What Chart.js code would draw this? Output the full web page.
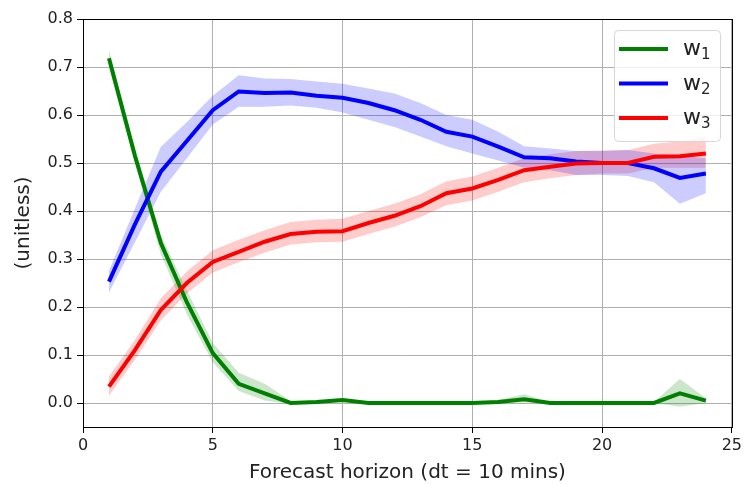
<!DOCTYPE html>
<html>
<head>
<meta charset="utf-8">
<script src="https://cdn.jsdelivr.net/npm/chart.js@4"></script>
<style>
  html, body { margin: 0; padding: 0; background: #fff; }
  #wrap { width: 745px; height: 485px; }
</style>
</head>
<body>
<div id="wrap"><canvas id="weightsChart" width="745" height="485"></canvas></div>
<script>
// Forecast horizon steps
const horizon = [1, 2, 3, 4, 5, 6, 7, 8, 9, 10, 11, 12, 13, 14, 15, 16, 17, 18, 19, 20, 21, 22, 23, 24];

// w1 (green)
const w1 = [0.718, 0.515, 0.333, 0.21, 0.104, 0.04, 0.02, 0.0, 0.002, 0.006, 0.0, 0.0, 0.0, 0.0, 0.0, 0.002, 0.008, 0.0, 0.0, 0.0, 0.0, 0.0, 0.02, 0.005];
const w1Lo = [0.70, 0.50, 0.31, 0.185, 0.085, 0.025, 0.005, -0.002, 0.0, 0.002, 0.0, 0.0, 0.0, 0.0, 0.0, 0.0, 0.001, 0.0, 0.0, 0.0, 0.0, 0.0, -0.008, 0.0];
const w1Hi = [0.735, 0.532, 0.35, 0.235, 0.125, 0.063, 0.04, 0.004, 0.004, 0.01, 0.002, 0.002, 0.002, 0.002, 0.002, 0.006, 0.018, 0.002, 0.002, 0.002, 0.002, 0.002, 0.05, 0.01];

// w2 (blue)
const w2 = [0.253, 0.372, 0.482, 0.546, 0.61, 0.649, 0.646, 0.647, 0.64, 0.636, 0.625, 0.61, 0.59, 0.565, 0.555, 0.534, 0.512, 0.51, 0.503, 0.5, 0.5, 0.489, 0.469, 0.478];
const w2Lo = [0.23, 0.335, 0.44, 0.51, 0.58, 0.617, 0.617, 0.62, 0.615, 0.605, 0.59, 0.575, 0.555, 0.535, 0.52, 0.505, 0.49, 0.485, 0.475, 0.475, 0.473, 0.46, 0.415, 0.437];
const w2Hi = [0.275, 0.405, 0.534, 0.585, 0.64, 0.683, 0.676, 0.675, 0.67, 0.665, 0.655, 0.645, 0.625, 0.6, 0.59, 0.565, 0.535, 0.53, 0.525, 0.525, 0.527, 0.52, 0.515, 0.51];

// w3 (red)
const w3 = [0.034, 0.11, 0.194, 0.25, 0.294, 0.315, 0.336, 0.352, 0.357, 0.358, 0.375, 0.39, 0.41, 0.437, 0.447, 0.465, 0.485, 0.492, 0.499, 0.5, 0.5, 0.513, 0.514, 0.52];
const w3Lo = [0.015, 0.09, 0.172, 0.228, 0.272, 0.293, 0.313, 0.33, 0.335, 0.336, 0.352, 0.367, 0.387, 0.412, 0.422, 0.44, 0.46, 0.468, 0.475, 0.478, 0.478, 0.49, 0.49, 0.49];
const w3Hi = [0.055, 0.132, 0.218, 0.274, 0.318, 0.34, 0.36, 0.377, 0.382, 0.384, 0.4, 0.415, 0.435, 0.462, 0.472, 0.49, 0.51, 0.518, 0.525, 0.526, 0.527, 0.54, 0.545, 0.555];

const xTicks = [0, 5, 10, 15, 20, 25];
const yTicks = [0.0, 0.1, 0.2, 0.3, 0.4, 0.5, 0.6, 0.7, 0.8];
const seriesLabels = ['w', 'w', 'w'];
const seriesSubs = ['1', '2', '3'];

const FONT = "'DejaVu Sans', sans-serif";

function pts(arr) {
    return horizon.map((x, i) => ({ x: x, y: arr[i] }));
}

function band(hi, lo, color) {
    return [
        { data: pts(hi), borderWidth: 0, pointRadius: 0, fill: '+1', backgroundColor: color, order: 10 },
        { data: pts(lo), borderWidth: 0, pointRadius: 0, fill: false, order: 10 }
    ];
}

function line(arr, color, order) {
    return { data: pts(arr), borderColor: color, borderWidth: 4, pointRadius: 0, fill: false, tension: 0, order: order };
}

const colors = ['#008000', '#0000ff', '#ff0000'];

const datasets = [].concat(
    band(w1Hi, w1Lo, 'rgba(0,128,0,0.2)'),
    band(w2Hi, w2Lo, 'rgba(0,0,255,0.2)'),
    band(w3Hi, w3Lo, 'rgba(255,0,0,0.2)'),
    [line(w1, colors[0], 3), line(w2, colors[1], 2), line(w3, colors[2], 1)]
);

// frame + legend box like matplotlib
const framePlugin = {
    id: 'frame',
    afterDraw(chart) {
        const { ctx, chartArea: a } = chart;
        ctx.save();
        ctx.strokeStyle = '#000';
        ctx.lineWidth = 1;
        ctx.strokeRect(Math.round(a.left) + 0.5, Math.round(a.top) + 0.5, Math.round(a.right - a.left), Math.round(a.bottom - a.top));

        // legend
        const lx = Math.round(a.right) - 118, ly = a.top + 11, lw = 106, lh = 111;
        ctx.beginPath();
        ctx.roundRect(lx + 0.5, ly + 0.5, lw, lh, 4);
        ctx.fillStyle = 'rgba(255,255,255,0.8)';
        ctx.fill();
        ctx.strokeStyle = '#d6d6d6';
        ctx.stroke();
        for (let i = 0; i < 3; i++) {
            const yy = ly + 19 + i * 34.5;
            ctx.strokeStyle = colors[i];
            ctx.lineWidth = 4;
            ctx.beginPath();
            ctx.moveTo(lx + 5, yy);
            ctx.lineTo(lx + 54, yy);
            ctx.stroke();
            ctx.fillStyle = '#222';
            ctx.textBaseline = 'alphabetic';
            ctx.font = '22px ' + FONT;
            ctx.fillText(seriesLabels[i], lx + 69, yy + 6);
            const ww = ctx.measureText(seriesLabels[i]).width;
            ctx.font = '15px ' + FONT;
            ctx.fillText(seriesSubs[i], lx + 69 + ww, yy + 10);
        }
        ctx.restore();
    }
};

new Chart(document.getElementById('weightsChart').getContext('2d'), {
    type: 'line',
    data: { datasets: datasets },
    options: {
        responsive: false,
        animation: false,
        layout: { padding: { left: 12, right: 9, top: 19, bottom: 0 } },
        plugins: {
            legend: { display: false },
            tooltip: { enabled: false },
            filler: { drawTime: 'beforeDatasetsDraw' }
        },
        scales: {
            x: {
                type: 'linear',
                min: 0,
                max: 25,
                afterBuildTicks: s => { s.ticks = xTicks.map(v => ({ value: v })); },
                afterFit: s => { s.height = 58; },
                grid: { color: '#b0b0b0', lineWidth: 1, tickColor: '#000', tickLength: 6 },
                border: { display: false },
                ticks: { color: '#222', font: { family: FONT, size: 16 }, padding: 3 },
                title: { display: true, text: 'Forecast horizon (dt = 10 mins)', color: '#222', font: { family: FONT, size: 20 }, padding: { top: 0, bottom: 0 } }
            },
            y: {
                min: -0.05,
                max: 0.8,
                afterBuildTicks: s => { s.ticks = yTicks.map(v => ({ value: v })); },
                afterFit: s => { s.width = 71; },
                grid: { color: '#b0b0b0', lineWidth: 1, tickColor: '#000', tickLength: 6 },
                border: { display: false },
                ticks: { color: '#222', font: { family: FONT, size: 16 }, padding: 4, callback: v => v.toFixed(1) },
                title: { display: true, text: '(unitless)', color: '#222', font: { family: FONT, size: 20 }, padding: { top: 0, bottom: 4 } }
            }
        }
    },
    plugins: [framePlugin]
});
</script>
</body>
</html>
